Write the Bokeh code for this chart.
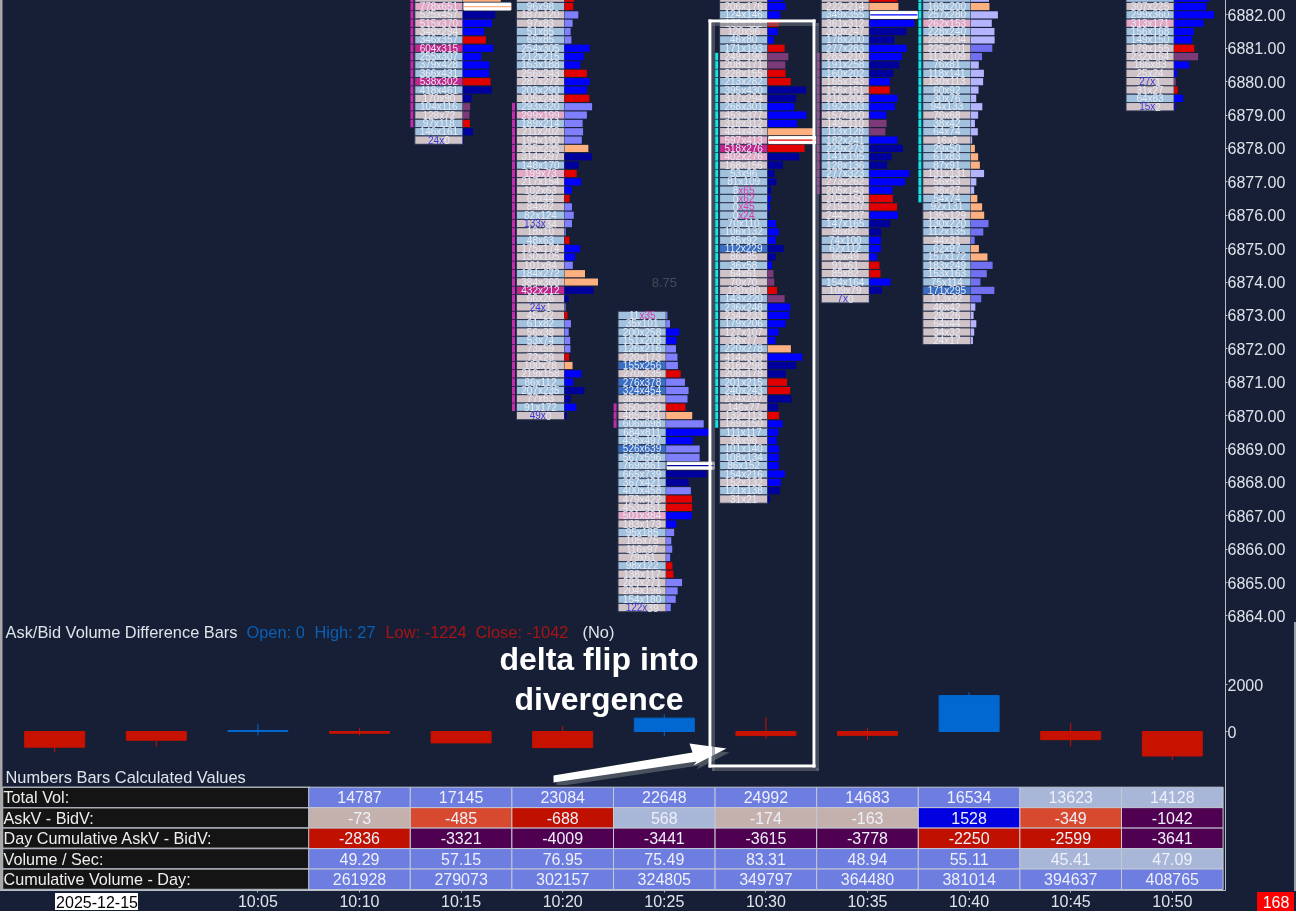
from bokeh.plotting import figure
from bokeh.layouts import column
from bokeh.models import Range1d, FixedTicker, LinearAxis
from bokeh.core.properties import value
from bokeh.embed import file_html
from bokeh.resources import INLINE

# ---------------- footprint data (ask x bid per price row, top to bottom) ----------------
FP_1015_TOP = 6882.5
FP_1015 = ["612x540","778x651","525x457","515x370","348x294","346x357","604x315","255x307","379x428","366x431",
           "538x302","418x461","170x90","104x116","128x72","97x118","146x161","24x0"]
FP_1015_HIST = "OODBBRBBBBRDDUURDD"

FP_1020_TOP = 6882.5
FP_1020 = ["120x96","96x98","187x120","97x83","51x85","69x85","254x305","212x215","163x188","256x243","287x272",
           "203x290","305x248","293x320","299x199","189x214","211x202","194x190","295x235","314x297","148x170",
           "199x73","217x154","102x63","69x44","84x82","82x124","133x34","18x10","48x63","175x174","130x105",
           "101x84","184x272","384x360","432x212","66x26","24x1","45x22","61x82","56x38","53x74","73x59","72x29",
           "100x78","219x158","86x112","207x235","77x63","91x172","49x0"]
FP_1020_HIST = "RRPPPPBBBRBBRPPPPPODDRBBRPPPPRBBPOODDPRPPPPROBBDDBD"

FP_1025_TOP = 6873.0
FP_1025 = ["11x35","35x101","200x258","151x208","126x216","220x173","155x256","270x235","276x378","324x454",
           "386x357","350x323","485x421","606x698","684x811","435x497","526x639","567x596","769x861","665x739",
           "367x421","400x458","479x422","453x451","501x384","183x173","95x185","105x75","116x97","79x61",
           "98x122","138x117","283x271","204x196","154x180","122x39"]
FP_1025_HIST = "PPBBPPPRPPPROPBBPPDDDPRRBBPPPPRRPPPP"

FP_1030_TOP = 6882.5
FP_1030 = ["180x150","206x176","124x146","130x112","120x96","46x80","171x193","249x196","208x171","228x155","213x282",
           "395x430","317x294","268x301","453x377","318x312","494x489","597x413","518x276","402x276","168x156",
           "53x96","81x109","8x65","0x62","0x45","0x24","70x110","106x132","85x92","112x229","86x85","36x58",
           "64x61","70x70","120x80","143x220","236x248","234x233","179x206","127x107","88x77","220x278","414x329",
           "316x298","208x178","201x215","240x243","274x237","146x77","132x113","169x150","111x117","98x98",
           "101x140","108x134","86x152","154x216","152x132","121x138","31x21"]
FP_1030_HIST = "BBBRBBRUURRDDBBBORRDDDDDBBDBBBDDBUURUBBBBBOBDDRRDDRBBBBBBBBDD"

FP_1035_TOP = 6882.5
FP_1035 = ["240x180","222x214","349x355","361x312","309x247","178x200","277x283","283x210","191x258","160x202",
           "165x143","156x151","216x206","192x193","157x100","149x110","113x128","182x241","229x273","141x195",
           "128x136","277x323","273x262","205x143","204x150","219x197","244x187","147x165","96x82","74x100",
           "62x112","66x49","91x61","85x82","154x164","109x79","7x0"]
FP_1035_HIST = "ROBBDDBBDDBRBBBUUBDDDBBBRRBDDBBBRRBDD"

FP_1040_TOP = 6882.5
FP_1040 = ["170x190","169x200","257x280","262x153","228x240","238x234","225x201","113x109","76x81","118x141","130x113",
           "60x92","30x76","94x133","76x68","38x42","64x74","16x9","29x50","61x83","87x91","131x131","56x53",
           "38x27","54x74","92x131","135x129","130x220","112x135","44x31","62x97","157x172","183x249","153x163",
           "75x114","171x295","113x92","46x42","28x26","64x44","34x32","24x17"]
FP_1040_HIST = "LOLLLLMMLLLLLLLLLLOOOLLLOOOMMMOOMMMMMLLLLL"

FP_1050_TOP = 6882.5
FP_1050 = ["274x301","307x225","299x360","313x171","156x168","149x150","179x155","232x164","166x83","25x24","27x1",
           "31x27","64x83","15x2"]
FP_1050_HIST = "BBBBBBRUBBURBB"

MINUTES = [15, 20, 25, 30, 35, 40, 50]
COLUMNS = [FP_1015, FP_1020, FP_1025, FP_1030, FP_1035, FP_1040, FP_1050]
HISTS = [FP_1015_HIST, FP_1020_HIST, FP_1025_HIST, FP_1030_HIST, FP_1035_HIST, FP_1040_HIST, FP_1050_HIST]
TOPS = [FP_1015_TOP, FP_1020_TOP, FP_1025_TOP, FP_1030_TOP, FP_1035_TOP, FP_1040_TOP, FP_1050_TOP]
MAX_VOL = [1429, 1044, 1630, 1010, 704, 934, 775]
POC = {15: "778x651", 25: "769x861", 30: "597x413", 35: "349x355"}

PINK = ["778x651","515x370","299x199","199x73","501x384","597x413","402x276","262x153","313x171"]
MAGENTA = ["604x315","538x302","432x212","518x276"]
STRONG = ["155x256","276x378","324x454","526x639","112x229","171x295"]
BLUE_ASK = ["24x0","133x34","24x1","49x0","122x39","7x0","27x1","15x2"]
MAGENTA_BID = ["11x35","8x65","0x62","0x45","0x24"]

# side profile strips: minute, top price, bottom price, colour
STRIP_MIN = [15, 20, 25, 30, 35, 40]
STRIP_TOP = [6882.5, 6879.25, 6870.25, 6880.75, 6880.75, 6882.5]
STRIP_BOT = [6878.75, 6870.25, 6869.75, 6869.75, 6876.75, 6876.5]
STRIP_COL = ["#c42cae", "#c42cae", "#c42cae", "#12e6e6", "#9c3f9e", "#12e6e6"]

# ---------------- delta candles ----------------
D_MIN = [-5, 0, 5, 10, 15, 20, 25, 30, 35, 40, 45, 50]
D_CLOSE = [-668, -370, 43, -73, -485, -688, 568, -174, -163, 1528, -349, -1042]
D_HIGH = [0, 0, 326, 142, 0, 240, 723, 610, 140, 1670, 355, 27]
D_LOW = [-880, -638, -170, -170, -485, -688, -200, -300, -355, 0, -640, -1224]

# ---------------- table ----------------
T_MIN = [10, 15, 20, 25, 30, 35, 40, 45, 50]
T_LABELS = ["Total Vol:", "AskV - BidV:", "Day Cumulative AskV - BidV:", "Volume / Sec:", "Cumulative Volume - Day:"]
T_TOTAL = [14787, 17145, 23084, 22648, 24992, 14683, 16534, 13623, 14128]
T_DELTA = [-73, -485, -688, 568, -174, -163, 1528, -349, -1042]
T_CUM_DELTA = [-2836, -3321, -4009, -3441, -3615, -3778, -2250, -2599, -3641]
T_VPS = [49.29, 57.15, 76.95, 75.49, 83.31, 48.94, 55.11, 45.41, 47.09]
T_CUM_VOL = [261928, 279073, 302157, 324805, 349797, 364480, 381014, 394637, 408765]

PRICE_TICKS = list(range(6864, 6883))
TIME_TICKS = [5, 10, 15, 20, 25, 30, 35, 40, 45, 50]
TIME_LABELS = ["10:05", "10:10", "10:15", "10:20", "10:25", "10:30", "10:35", "10:40", "10:45", "10:50"]
DATE_LABEL = "2025-12-15"
BAR_COUNT_LABEL = "168"

BG = "#161f35"
AXC = "#b9bec8"
TXT = "#dfe3ea"
FONT = value("Liberation Sans")
HC = {"B": "#0000ff", "D": "#00009c", "P": "#8080ff", "L": "#b4b4ff", "M": "#7070f0",
      "R": "#e00000", "O": "#ffb080", "U": "#7c3a78"}

PXM = 20.32
X0 = 5 - 257.4 / PXM
X1 = 5 + (1225 - 257.4) / PXM
def xp(px): return X0 + px / PXM
PX_PRICE = 33.39
P_TOP = 6882 + 14.4 / PX_PRICE
def yp1(py): return P_TOP - py / PX_PRICE
PX_DELTA = 0.0235
def yp2(py): return (731 - py) / PX_DELTA
RH = 20.46
def yp3(py): return (889 - py) / RH

x_range = Range1d(xp(-2), X1)

def base(height, page_top, y_range, clip, mb=3, z=1):
    p = figure(width=1301, height=height, x_range=x_range, y_range=y_range, toolbar_location=None,
               output_backend="svg", min_border_left=3, min_border_top=3, min_border_bottom=mb,
               min_border_right=71, background_fill_color=BG, border_fill_color=BG, outline_line_color=None,
               x_axis_location=None, y_axis_location=None, frame_align=False,
               styles={"position": "fixed", "left": "-5px", "top": f"{page_top}px", "max-width": "none",
                       "clip-path": clip, "z-index": str(z)})
    p.grid.visible = False
    return p

def right_axis(p, ticks, fmt=None):
    ax = LinearAxis(ticker=FixedTicker(ticks=ticks), axis_line_color=AXC, major_tick_line_color=AXC,
                    major_tick_out=2, major_tick_in=0, minor_tick_line_color=None,
                    major_label_text_color=TXT, major_label_text_font="Liberation Sans",
                    major_label_text_font_size="16px", major_label_standoff=0)
    if fmt:
        ax.major_label_overrides = fmt
    p.add_layout(ax, "right")

# ---------------- price pane: page y 0..624 (drawn over the pane below) ----------------
p1 = base(632, -5, Range1d(yp1(624), yp1(-2)), "inset(5px 0 3px 5px)", z=2)
right_axis(p1, PRICE_TICKS, {t: f"{t}.00" for t in PRICE_TICKS})

cell = dict(l=[], r=[], t=[], b=[], c=[])
hist = dict(l=[], r=[], t=[], b=[], c=[])
poc = dict(l=[], r=[], y=[], c=[])
tx = dict(x=[], y=[], t=[])
tx2 = dict(x=[], y=[], t=[], c=[], a=[])
ROW = 0.25
for m, rows, hs, top, mv in zip(MINUTES, COLUMNS, HISTS, TOPS, MAX_VOL):
    for i, (s, h) in enumerate(zip(rows, hs)):
        price = top - i * ROW
        a, b = s.split("x")
        ai, bi = int(a), int(b)
        if s in MAGENTA: col = "#c0288c"
        elif s in STRONG: col = "#3a6fc4"
        elif s in PINK: col = "#e2a8c4"
        elif bi > ai: col = "#a2c1dc"
        else: col = "#d0c3c8"
        L = m - 46.3 / PXM
        R = m + 1.8 / PXM
        cell["l"].append(L); cell["r"].append(R)
        cell["t"].append(price + ROW / 2); cell["b"].append(price - ROW / 2); cell["c"].append(col)
        w = (ai + bi) / mv * 47 / PXM
        if POC.get(m) == s:
            poc["l"].append(R + 1 / PXM); poc["r"].append(R + 1 / PXM + w); poc["y"].append(price); poc["c"].append(HC[h])
        else:
            hist["l"].append(R); hist["r"].append(R + w)
            hist["t"].append(price + ROW * 0.43); hist["b"].append(price - ROW * 0.43); hist["c"].append(HC[h])
        cx = (L + R) / 2
        if price > P_TOP - 0.1:
            continue
        if s in BLUE_ASK or s in MAGENTA_BID:
            total = len(s) * 5.3
            if s in BLUE_ASK:
                lw = (len(a) + 1) * 5.3
                lt, rt = a + "x", b
                lc, rc = "#3c3cd8", "#e6eaf4"
            else:
                lw = len(a) * 5.3
                lt, rt = a, "x" + b
                lc, rc = "#e6eaf4", "#d83caa"
            bx = cx + (lw - total / 2) / PXM
            tx2["x"] += [bx, bx]; tx2["y"] += [price, price]; tx2["t"] += [lt, rt]
            tx2["c"] += [lc, rc]; tx2["a"] += ["right", "left"]
        else:
            tx["x"].append(cx); tx["y"].append(price); tx["t"].append(s)

p1.quad(left="l", right="r", top="t", bottom="b", fill_color="c", line_color="#2a3550", line_width=1, source=cell)
p1.quad(left="l", right="r", top="t", bottom="b", fill_color="c", line_color=None, source=hist)
p1.hbar(y="y", left="l", right="r", height=7 / PX_PRICE, fill_color="white", line_color="white", source=poc)
p1.hbar(y="y", left="l", right="r", height=1.2 / PX_PRICE, fill_color="c", line_color=None, source=poc)
p1.text(x="x", y="y", text="t", text_color="#e6eaf4", text_font=FONT, text_font_size="10px",
        text_align="center", text_baseline="middle", source=tx)
p1.text(x="x", y="y", text="t", text_color="c", text_align="a", text_font=FONT, text_font_size="10px",
        text_baseline="middle", source=tx2)

for m, t0, b0, c0 in zip(STRIP_MIN, STRIP_TOP, STRIP_BOT, STRIP_COL):
    n = int(round((t0 - b0) / ROW)) + 1
    ys = [t0 - i * ROW for i in range(n)]
    p1.hbar(y=ys, left=m - 50.7 / PXM, right=m - 47.7 / PXM, height=ROW * 0.92, fill_color=c0, line_color=None)

p1.text(x=[25], y=[6874.0], text=["8.75"], text_color="#454b58", text_font=FONT, text_font_size="13px",
        text_align="center", text_baseline="middle")

# ---------------- delta pane: page y 622..785 ----------------
p2 = base(173, 617, Range1d(yp2(787), yp2(620)), "inset(5px 0 5px 5px)")
right_axis(p2, [0, 2000])

cols = ["#0068d0" if c > 0 else "#c81200" for c in D_CLOSE]
p2.segment(x0=D_MIN, x1=D_MIN, y0=D_LOW, y1=D_HIGH, line_color=cols, line_width=1)
p2.vbar(x=D_MIN, width=60 / PXM, bottom=[min(0, c) for c in D_CLOSE], top=[max(0, c) for c in D_CLOSE],
        fill_color=cols, line_color=cols, line_width=1)

def ltext(p, px, y, s, c, size="16.4px"):
    p.text(x=[xp(px)], y=[y], text=[s], text_color=c, text_font=FONT, text_font_size=size,
           text_align="left", text_baseline="middle")

BL = "#0b5fb4"
RD = "#a81414"
ltext(p2, 5, yp2(631.5), "Ask/Bid Volume Difference Bars", TXT)
ltext(p2, 246, yp2(631.5), "Open: 0", BL)
ltext(p2, 314, yp2(631.5), "High: 27", BL)
ltext(p2, 385, yp2(631.5), "Low: -1224", RD)
ltext(p2, 475, yp2(631.5), "Close: -1042", RD)
ltext(p2, 582, yp2(631.5), "(No)", TXT)
ltext(p2, 5, yp2(776.5), "Numbers Bars Calculated Values", TXT)

p2.text(x=[xp(598.5), xp(598.5)], y=[yp2(658), yp2(698)], text=["delta flip into", "divergence"],
        text_color="white", text_font=FONT, text_font_style="bold",
        text_font_size="32px", text_align="center", text_baseline="middle")

# arrow
ax_pts = [553, 692, 689, 726, 693, 696, 553]
ay_pts = [775, 752, 743, 748, 765, 761, 782]
p2.patch(x=[xp(v + 3) for v in ax_pts], y=[yp2(v + 4) for v in ay_pts], fill_color="#70747c", line_color=None, fill_alpha=0.6)
p2.patch(x=[xp(v) for v in ax_pts], y=[yp2(v) for v in ay_pts], fill_color="white", line_color=None)

# annotation frame, drawn piecewise in both panes
def frame(p, yf):
    bands = [(708, 711, 19, 767), (812, 815, 19, 767), (708, 815, 19, 22), (708, 815, 764, 767)]
    for off, col, al in [(3.5, "#6e7078", 0.55), (0, "white", 1)]:
        p.quad(left=[xp(b[0] + off) for b in bands], right=[xp(b[1] + off) for b in bands],
               top=[yf(b[2] + off) for b in bands], bottom=[yf(b[3] + off) for b in bands],
               fill_color=col, fill_alpha=al, line_color=None)
frame(p1, yp1)
frame(p2, yp2)

# left edge line
for p, yf, y0, y1 in [(p1, yp1, -3, 630), (p2, yp2, 615, 790)]:
    p.quad(left=[xp(-3)], right=[xp(2)], top=[yf(y0)], bottom=[yf(y1)], fill_color="#a8a8a8", line_color=None)

# ---------------- table pane: page y 785..911 ----------------
p3 = base(136, 780, Range1d(yp3(890), yp3(783)), "inset(5px 0 0 5px)", mb=26)

ax3 = LinearAxis(ticker=FixedTicker(ticks=TIME_TICKS), major_label_overrides=dict(zip(TIME_TICKS, TIME_LABELS)),
                 axis_line_color=AXC, major_tick_line_color=AXC, major_tick_out=2, major_tick_in=0,
                 minor_tick_line_color=None, major_label_text_color=TXT, major_label_text_font="Liberation Sans",
                 major_label_text_font_size="16px", major_label_standoff=0)
p3.add_layout(ax3, "below")
p3.add_layout(LinearAxis(ticker=FixedTicker(ticks=[]), axis_line_color=AXC, major_label_text_color=None,
                         major_tick_line_color=None, minor_tick_line_color=None), "right")

PERI = "#6d7de0"
LIGHT = "#a8b6d8"
ROSY = "#c4b0ac"
ORANGE = "#d84a30"
RED = "#c01000"
PURP = "#500050"
BLUE = "#0000e0"
def c_vol(v, lim): return PERI if v >= lim else LIGHT
def c_delta(v):
    if v >= 1000: return BLUE
    if v > 0: return LIGHT
    if v > -300: return ROSY
    if v > -600: return ORANGE
    if v > -1000: return RED
    return PURP
def c_cum(v): return RED if v > -3000 else PURP

ROWS = [([str(v) for v in T_TOTAL], [c_vol(v, 14500) for v in T_TOTAL]),
        ([str(v) for v in T_DELTA], [c_delta(v) for v in T_DELTA]),
        ([str(v) for v in T_CUM_DELTA], [c_cum(v) for v in T_CUM_DELTA]),
        ([f"{v:.2f}" for v in T_VPS], [c_vol(v, 48) for v in T_VPS]),
        ([str(v) for v in T_CUM_VOL], [PERI] * 9)]
p3.quad(left=[xp(-3)], right=[xp(2)], top=[yp3(780)], bottom=[yp3(890)], fill_color="#a8a8a8", line_color=None)
for i, ((txts, fills), lab) in enumerate(zip(ROWS, T_LABELS)):
    y = 4.5 - i
    p3.quad(left=[xp(2)], right=[xp(309)], top=[y + .5], bottom=[y - .5], fill_color="#141414",
            line_color="#a8acb4", line_width=1.5)
    p3.quad(left=[m - 2.5 for m in T_MIN], right=[m + 2.5 for m in T_MIN], top=y + .5, bottom=y - .5,
            fill_color=fills, line_color="#c4c8d4", line_width=1)
    p3.text(x=T_MIN, y=[y] * 9, text=txts, text_color="#eef0fa", text_font=FONT, text_font_size="16px",
            text_align="center", text_baseline="middle")
    p3.text(x=[xp(3)], y=[y], text=[lab], text_color="#eeeeee", text_font=FONT, text_font_size="16.2px",
            text_align="left", text_baseline="middle")

# small text chips placed below the time axis
def chip(txt, x0, x1, y0, y1, bg, fg):
    w, h = x1 - x0, y1 - y0
    c = figure(width=w + 10, height=h + 10, x_range=Range1d(0, w + 6), y_range=Range1d(0, h + 6),
               toolbar_location=None, output_backend="svg", min_border=2, background_fill_color=bg,
               border_fill_color=bg, outline_line_color=None, x_axis_location=None, y_axis_location=None,
               frame_align=False,
               styles={"position": "fixed", "left": f"{x0 - 5}px", "top": f"{y0 - 5}px",
                       "clip-path": "inset(5px)", "z-index": "5"})
    c.grid.visible = False
    if txt:
        c.text(x=[(w + 6) / 2], y=[(h + 6) / 2], text=[txt], text_color=fg, text_font=FONT, text_font_size="16px",
               text_align="center", text_baseline="middle")
    return c

date_chip = chip(DATE_LABEL, 55, 138, 893, 910, "white", "black")
count_chip = chip(BAR_COUNT_LABEL, 1257, 1294, 892, 911, "#ff0000", "white")
edge_chip = chip("", 1294, 1296, 622, 891, "#9a9ea8", "white")

page = column(p1, p2, p3, date_chip, count_chip, edge_chip, spacing=0)
open("out.html", "w").write(file_html(page, INLINE))
